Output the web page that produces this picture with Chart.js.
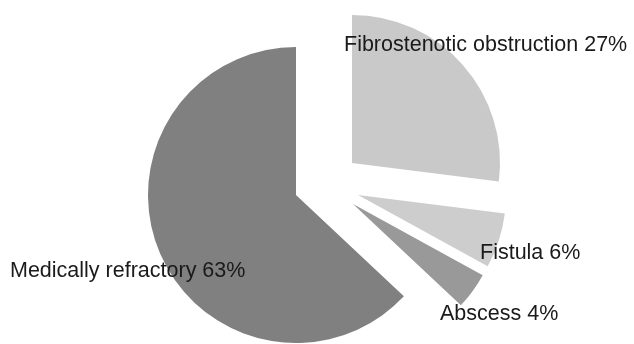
<!DOCTYPE html>
<html>
<head>
<meta charset="utf-8">
<script src="https://cdn.jsdelivr.net/npm/chart.js@4"></script>
<style>
  html, body { margin: 0; padding: 0; background: #fff; }
  #wrap { width: 634px; height: 344px; }
</style>
</head>
<body>
<div id="wrap"><canvas id="pieCanvas"></canvas></div>
<script>
// indications, clockwise from 12 o'clock
const categories = ["Fibrostenotic obstruction", "Fistula", "Abscess", "Medically refractory"];
const percents = [27, 6, 4, 63];

const sliceColors = ["#c9c9c9", "#cdcdcd", "#999999", "#808080"];
// how far each slice is pulled out of the pie (px)
const explode = [[56, -32], [62, 0], [57, 9], [0, 0]];
// where each label goes
const labelSpots = [[344, 51], [480, 259], [440, 320], [10, 277]];

const explodePlugin = {
    id: "explode",
    afterDatasetUpdate(chart, args) {
        const arcs = args.meta.data;
        arcs.forEach((arc, i) => {
            arc.x += explode[i][0];
            arc.y += explode[i][1];
        });
    }
};

const labelPlugin = {
    id: "sliceLabels",
    afterDraw(chart) {
        const ctx = chart.ctx;
        ctx.save();
        ctx.font = "21.5px 'Liberation Sans', Arial, sans-serif";
        ctx.fillStyle = "#1a1a1a";
        ctx.textAlign = "left";
        ctx.textBaseline = "alphabetic";
        categories.forEach((c, i) => {
            ctx.fillText(c + " " + percents[i] + "%", labelSpots[i][0], labelSpots[i][1]);
        });
        ctx.restore();
    }
};

const pieCanvas = document.getElementById("pieCanvas");

const pieChart = new Chart(pieCanvas, {
    type: "pie",
    data: {
        labels: categories,
        datasets: [
            {
                data: percents,
                backgroundColor: sliceColors,
                borderWidth: 0,
                radius: 148,
            },
        ],
    },
    options: {
        responsive: true,
        maintainAspectRatio: false,
        animation: false,
        events: [],
        layout: {
            padding: { left: 0, right: 42, top: 46, bottom: 0 },
        },
        plugins: {
            legend: { display: false },
            tooltip: { enabled: false },
        },
    },
    plugins: [explodePlugin, labelPlugin],
});
</script>
</body>
</html>
